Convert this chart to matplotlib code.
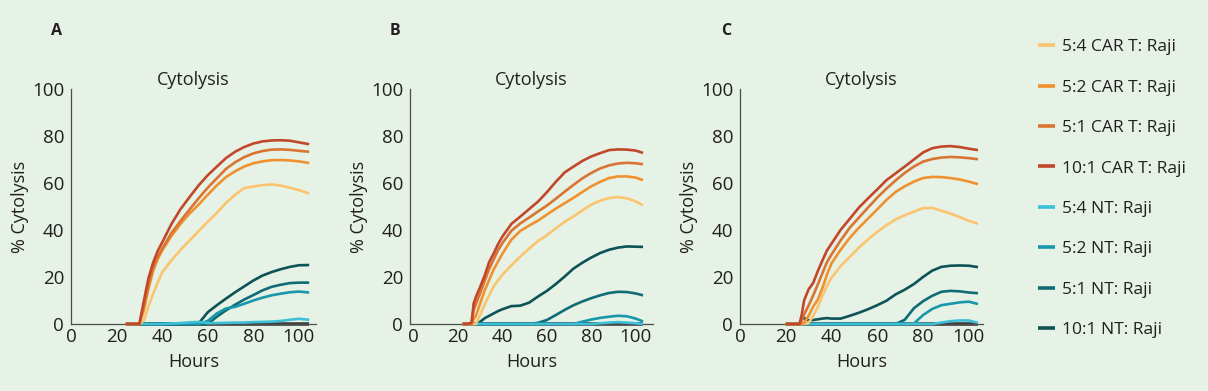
import matplotlib
matplotlib.use("Agg")
import matplotlib.pyplot as plt
import numpy as np

plt.rcParams['font.family'] = ['Open Sans', 'DejaVu Sans']

# ---------------- data ----------------
SERIES_LABELS = ["5:4 CAR T: Raji", "5:2 CAR T: Raji", "5:1 CAR T: Raji", "10:1 CAR T: Raji",
                 "5:4 NT: Raji", "5:2 NT: Raji", "5:1 NT: Raji", "10:1 NT: Raji"]
SERIES_COLORS = ["#fbc46e", "#f0912f", "#da7433", "#c1472b",
                 "#3dbfd8", "#1896aa", "#0f6b76", "#0c5257"]
PANEL_LETTERS = ["A", "B", "C"]
X_TICKS = [0, 20, 40, 60, 80, 100]
Y_TICKS = [0, 20, 40, 60, 80, 100]

# Panel A
HOURS_A = [24, 28, 30, 32, 34, 36, 38, 40, 44, 48, 52, 56, 60, 64, 68, 72, 76, 80, 84, 88, 92, 96, 100, 104.5]
CAR54_A = [0, 0, 0, 1.5, 7.5, 12.8, 17.5, 22, 27, 31.5, 35.5, 39.5, 43.5, 47.3, 51.5, 55, 57.8, 58.5, 59.1, 59.4, 58.9, 58, 57, 55.5]
CAR52_A = [0, 0, 0, 6, 15, 22.6, 27.5, 31.3, 37.4, 42.5, 47, 50.8, 55, 59, 62.5, 65, 67, 68.4, 69.2, 69.7, 69.8, 69.6, 69.2, 68.5]
CAR51_A = [0, 0, 0, 8, 17, 24, 28.5, 32, 38.6, 43.8, 48.7, 53.5, 58, 62, 66, 68.8, 71, 72.6, 73.6, 74.2, 74.3, 74.1, 73.7, 73.3]
CAR101_A = [0, 0, 0, 10, 19.5, 26, 31, 34.7, 42.4, 48.8, 54, 59, 63.3, 67, 70.6, 73.3, 75.3, 76.8, 77.7, 78.1, 78.2, 78, 77.3, 76.5]
NT54_A = [0, 0, 0, 0, 0, 0, 0, 0, 0.2, 0.4, 0.7, 0.9, 0.4, 0.4, 0.5, 0.6, 0.6, 0.8, 0.9, 1.0, 1.3, 1.8, 2.2, 1.8]
NT52_A = [0, 0, 0, 0, 0, 0, 0, 0, 0, 0, 0, 0, 1.3, 4.5, 6.6, 7.3, 8.6, 10, 11.2, 12.2, 12.9, 13.5, 13.8, 13.4]
NT51_A = [0, 0, 0, 0, 0, 0, 0, 0, 0, 0, 0, 0, 0, 3.1, 5.8, 8.2, 10.4, 12.3, 14.3, 15.8, 16.7, 17.4, 17.6, 17.6]
NT101_A = [0, 0, 0, 0, 0, 0, 0, 0, 0, 0, 0, 0.2, 5, 8, 10.8, 13.5, 16, 18.5, 20.6, 22.1, 23.3, 24.3, 25, 25.1]
RAJI_A = [0, 0, 0, 0, 0, 0, 0, 0, 0, 0, 0, 0, 0, 0, 0, 0, 0, 0, 0, 0, 0, 0, 0, 0]

# Panel B
HOURS_B = [22, 24, 26, 27, 28, 30, 32, 34, 36, 38, 40, 44, 48, 52, 56, 60, 64, 68, 72, 76, 80, 84, 88, 92, 96, 100, 103.3]
CAR54_B = [0, 0, 0, 0, 0, 4, 8.5, 12.3, 16, 18.6, 21, 25, 28.7, 32.1, 35.3, 37.8, 40.7, 43.5, 45.8, 48.4, 50.8, 52.5, 53.6, 54, 53.5, 52.2, 50.5]
CAR52_B = [0, 0, 0, 2, 3.5, 9, 14.4, 18.8, 23.2, 26.6, 30, 35.9, 39.6, 41.9, 44, 46.6, 49.1, 51.4, 53.7, 56.2, 58.6, 60.5, 62.1, 62.8, 62.8, 62.3, 61.2]
CAR51_B = [0, 0, 0, 6, 8.5, 13.3, 18.5, 23.5, 27.5, 31.4, 34.5, 39.7, 42.8, 45.3, 47.9, 50.4, 53.3, 56.3, 59.2, 62, 64.3, 66.2, 67.5, 68.3, 68.6, 68.4, 68]
CAR101_B = [0, 0, 0.5, 8.8, 11.5, 16, 20.8, 26.4, 30, 34, 37.3, 42.6, 45.7, 48.9, 52.1, 56.1, 60.5, 64.5, 67, 69.4, 71.3, 72.7, 74, 74.3, 74.2, 73.8, 72.8]
NT54_B = [0, 0, 0, 0, 0, 0, 0, 0, 0, 0, 0, 0, 0, 0, 0, 0, 0, 0, 0, 0, 0, 0.3, 0.6, 0.8, 0.6, 0.3, 0]
NT52_B = [0, 0, 0, 0, 0, 0, 0, 0, 0, 0, 0, 0, 0, 0, 0, 0, 0, 0, 0, 1, 1.9, 2.6, 3.1, 3.5, 3.3, 2.3, 1.1]
NT51_B = [0, 0, 0, 0, 0, 0, 0, 0, 0, 0, 0, 0, 0, 0, 0.5, 1.7, 3.8, 6, 8, 9.6, 11, 12.2, 13.2, 13.7, 13.6, 13, 12.2]
NT101_B = [0, 0, 0, 0, 0, 1, 2.5, 3.5, 4.5, 5.5, 6.3, 7.6, 7.8, 9.1, 11.7, 14.1, 17, 20.2, 23.6, 26.1, 28.3, 30.2, 31.6, 32.5, 33, 32.9, 32.8]
RAJI_B = [0, 0, 0, 0, 0, 0, 0, 0, 0, 0, 0, 0, 0, 0, 0, 0, 0, 0, 0, 0, 0, 0, 0, 0, 0, 0, 0]

# Panel C
HOURS_C = [20, 22, 24, 26, 27, 28, 30, 32, 34, 36, 38, 40, 44, 48, 52, 56, 60, 64, 68, 72, 76, 80, 84, 88, 92, 96, 100, 104]
CAR54_C = [0, 0, 0, 0, 0, 0, 0.5, 3.4, 7.2, 11.9, 16.3, 19.7, 24.7, 28.6, 32.5, 36, 39.2, 42, 44.5, 46.3, 47.8, 49.3, 49.4, 48.2, 47, 45.5, 43.9, 42.7]
CAR52_C = [0, 0, 0, 0, 0, 0.5, 3.5, 7.4, 10.4, 15.2, 21, 25.8, 31.6, 36.7, 41, 44.9, 48.8, 52.8, 56.2, 58.6, 60.6, 62.1, 62.6, 62.5, 62.1, 61.5, 60.6, 59.5]
CAR51_C = [0, 0, 0, 0, 1.5, 4, 7.9, 12.2, 16.8, 21.6, 26.3, 29.6, 35.6, 41, 45.3, 49.6, 53.8, 57.6, 61.1, 64.3, 67, 69.1, 70.2, 70.8, 71.1, 70.9, 70.6, 70.1]
CAR101_C = [0, 0, 0, 0, 4, 10, 14.8, 17.5, 22.5, 27, 31.3, 34.2, 40.1, 44.8, 49.6, 53.5, 57.3, 61.2, 64.1, 67, 70, 73, 74.8, 75.5, 75.7, 75.3, 74.6, 74]
NT54_C = [0, 0, 0, 0, 0, 0, 0, 0, 0, 0, 0, 0, 0, 0, 0, 0, 0, 0, 0, 0, 0, 0, 0, 0.6, 1.2, 1.5, 1.5, 0.5]
NT52_C = [0, 0, 0, 0, 0, 0, 0, 0, 0, 0, 0, 0, 0, 0, 0, 0, 0, 0, 0, 0, 0.2, 3.8, 6.4, 8, 8.6, 9.2, 9.5, 8.5]
NT51_C = [0, 0, 0, 0, 0, 0, 0, 0, 0, 0, 0, 0, 0, 0, 0, 0, 0, 0, 0, 1.8, 6.7, 9.7, 12, 13.7, 14.1, 13.9, 13.4, 13.1]
NT101_C = [0, 0, 0, 0, 2, 2.6, 1.5, 1.7, 2, 2.3, 2.5, 2.3, 2.3, 3.5, 4.8, 6.3, 8, 9.9, 12.6, 14.6, 17, 20, 22.7, 24.3, 24.8, 24.9, 24.8, 24.2]
RAJI_C = [0, 0, 0, 0, 0, 0, 0, 0, 0, 0, 0, 0, 0, 0, 0, 0, 0, 0, 0, 0, 0, 0, 0, 0, 0, 0, 0, 0]

PANELS = [
    (HOURS_A, [CAR54_A, CAR52_A, CAR51_A, CAR101_A, NT54_A, NT52_A, NT51_A, NT101_A], RAJI_A),
    (HOURS_B, [CAR54_B, CAR52_B, CAR51_B, CAR101_B, NT54_B, NT52_B, NT51_B, NT101_B], RAJI_B),
    (HOURS_C, [CAR54_C, CAR52_C, CAR51_C, CAR101_C, NT54_C, NT52_C, NT51_C, NT101_C], RAJI_C),
]

# ---------------- figure ----------------
BG = "#e5f2e5"
W, H = 1208, 391
fig = plt.figure(figsize=(W / 100, H / 100), dpi=100, facecolor=BG)

# axes boxes in pixels: left, top, right, bottom
BOXES = [(71, 89, 316, 324), (410, 89, 653, 324), (740, 89, 983, 324)]
XLIMS = [(0, 107.5), (-1.7, 107.8), (0, 106.2)]
LETTER_X = [51, 390, 721]
FS_TICK = 13.5
FS_LAB = 13
TXT = "#231f20"

handles = None
for i, ((hours, series, raji), (l, t, r, b)) in enumerate(zip(PANELS, BOXES)):
    ax = fig.add_axes([l / W, 1 - b / H, (r - l) / W, (b - t) / H])
    ax.set_facecolor(BG)
    ax.patch.set_alpha(0)
    order = [7, 6, 5, 4, 0, 1, 2, 3]
    lines = {}
    for k in order:
        ln, = ax.plot(hours, series[k], color=SERIES_COLORS[k], lw=1.9,
                      solid_capstyle='butt', clip_on=False, zorder=3)
        lines[k] = ln
    ax.plot(hours, raji, color="#3b3d3b", lw=2.6, solid_capstyle='butt',
            zorder=2.5, clip_on=False)
    if handles is None:
        handles = [lines[k] for k in range(8)]
    ax.set_xlim(*XLIMS[i])
    ax.set_ylim(0, 100)
    ax.set_xticks(X_TICKS)
    ax.set_yticks(Y_TICKS)
    ax.tick_params(length=0, labelsize=FS_TICK, colors=TXT, pad=3)
    ax.tick_params(axis='y', pad=5)
    for s in ['top', 'right']:
        ax.spines[s].set_visible(False)
    for s in ['left', 'bottom']:
        ax.spines[s].set_color("#4d4d4d")
        ax.spines[s].set_linewidth(0.9)
    ax.set_xlabel("Hours", fontsize=FS_LAB, color=TXT, labelpad=5)
    ax.set_ylabel("% Cytolysis", fontsize=FS_LAB, color=TXT, labelpad=2)
    ax.set_title("Cytolysis", fontsize=FS_LAB, color=TXT, pad=2)
    fig.text(LETTER_X[i] / W, 1 - 31 / H, PANEL_LETTERS[i], fontsize=11.5,
             fontweight='bold', color=TXT, ha='left', va='center')

leg = fig.legend(handles, SERIES_LABELS, loc='upper left',
                 bbox_to_anchor=(1038 / W, 1 - 39 / H), frameon=False,
                 fontsize=12.5, handlelength=1.0, handletextpad=0.4,
                 labelspacing=1.4, borderpad=0, borderaxespad=0)
for txt in leg.get_texts():
    txt.set_color(TXT)
for ln in leg.get_lines():
    ln.set_linewidth(2.6)

fig.savefig("out.png", dpi=100, facecolor=BG)
